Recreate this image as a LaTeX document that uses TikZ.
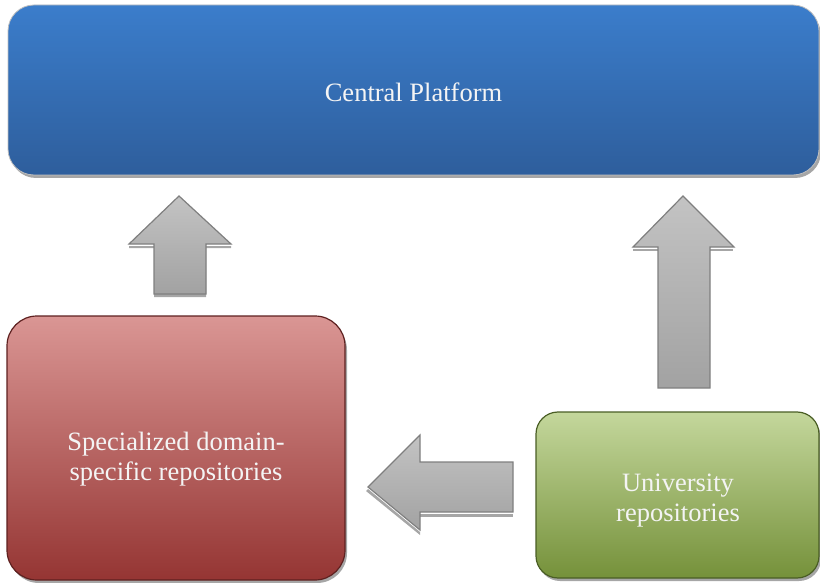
\documentclass[tikz,border=0pt]{standalone}
\usepackage{fontspec}
\setmainfont{Liberation Serif}
\newfontfamily\tnr{Liberation Serif}
\definecolor{bluetop}{HTML}{3B7DCB}
\definecolor{bluebot}{HTML}{2E5E9C}
\definecolor{redtop}{HTML}{DA9694}
\definecolor{redbot}{HTML}{953533}
\definecolor{redline}{HTML}{5E2120}
\definecolor{greentop}{HTML}{C4D79C}
\definecolor{greenbot}{HTML}{75913A}
\definecolor{greenline}{HTML}{4A5E25}
\definecolor{arrtop}{HTML}{C3C3C3}
\definecolor{arrbot}{HTML}{A2A2A2}
\definecolor{arrline}{HTML}{7F7F7F}
\definecolor{txt}{HTML}{F4F4F4}
\tikzset{
  boxlabel/.style={text=txt, font=\tnr\fontsize{26.5}{30}\selectfont, align=center},
  shadowfill/.style={fill=black!35},
  blockarrow/.style={top color=arrtop, bottom color=arrbot, draw=arrline, line width=1.2pt, line join=miter},
}
\begin{document}
\begin{tikzpicture}[x=1pt,y=-1pt]
\useasboundingbox (0,0) rectangle (820,583);
% shadows
\fill[shadowfill, rounded corners=26pt] (10,9) rectangle (821,178);
\fill[shadowfill, rounded corners=30pt] (9,320) rectangle (347,583);
\fill[shadowfill, rounded corners=22pt] (538,416) rectangle (821,581);
% Central platform
\draw[top color=bluetop, bottom color=bluebot, draw=black!25, line width=0.8pt, rounded corners=26pt]
  (8,5) rectangle (819,175);
\node[boxlabel] (cp) at (413.5,92) {Central Platform};
% Specialized
\draw[top color=redtop, bottom color=redbot, draw=redline, line width=1.2pt, rounded corners=30pt]
  (7,316) rectangle (345,580);
\node[boxlabel] (sd) at (176,459) {Specialized domain-\\specific repositories};
% University
\draw[top color=greentop, bottom color=greenbot, draw=greenline, line width=1.2pt, rounded corners=22pt]
  (536,412) rectangle (819,578);
\node[boxlabel] (ur) at (678,501) {University\\repositories};
% arrow shadows
\fill[shadowfill] (129,246) -- (154,246) -- (154,297) -- (206,297) -- (206,246) -- (231,246) -- (231,248) -- (129,248) -- cycle;
\fill[shadowfill] (633,249) -- (733,249) -- (733,251) -- (633,251) -- cycle;
\fill[shadowfill] (420,514) rectangle (513,517);
\fill[shadowfill] (368,489) -- (420,532) -- (420,535) -- (366,491) -- cycle;
% left up arrow
\draw[blockarrow] (179,196) -- (231,244) -- (206,244) -- (206,294) -- (154,294) -- (154,244) -- (129,244) -- cycle;
% right up arrow
\draw[blockarrow] (683,196) -- (734,247) -- (710,247) -- (710,388) -- (658,388) -- (658,247) -- (633,247) -- cycle;
% left arrow
\draw[blockarrow] (368,487) -- (420,435) -- (420,462) -- (513,462) -- (513,512) -- (420,512) -- (420,530) -- cycle;
\end{tikzpicture}
\end{document}
